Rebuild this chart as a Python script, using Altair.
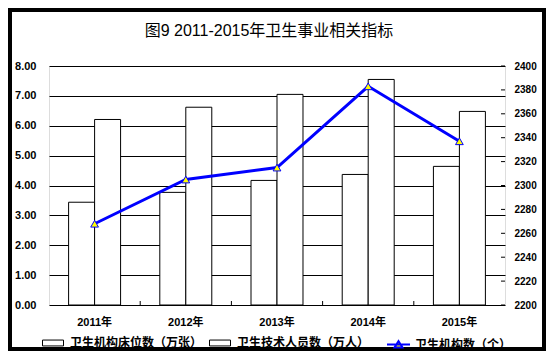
import altair as alt
import pandas as pd

years = ["2011年", "2012年", "2013年", "2014年", "2015年"]
beds = [3.44, 3.77, 4.17, 4.37, 4.64]
staff = [6.21, 6.62, 7.05, 7.55, 6.48]
institutions = [2268, 2305, 2315, 2383, 2337]
bar_series = ["卫生机构床位数（万张）", "卫生技术人员数（万人）"]
line_series = "卫生机构数（个）"
left_ticks = [0, 1, 2, 3, 4, 5, 6, 7, 8]
right_ticks = list(range(2200, 2401, 20))
title_text = "图9  2011-2015年卫生事业相关指标"

bar_df = pd.DataFrame({
    "year": years * 2,
    "series": [bar_series[0]] * len(years) + [bar_series[1]] * len(years),
    "value": beds + staff,
})
line_df = pd.DataFrame({"year": years, "series": [line_series] * len(years), "value": institutions})
rtick_df = pd.DataFrame({"value": right_ticks})
btick_df = pd.DataFrame({"year": years[1:]})
frame_df = pd.DataFrame({"k": [0]})

W, H = 456, 239
LATIN = "Liberation Sans"
CJK = "Noto Sans CJK SC"

x_enc = alt.X(
    "year:N", sort=years,
    scale=alt.Scale(paddingInner=0.43, paddingOuter=0.215),
    axis=alt.Axis(title=None, labelAngle=0, ticks=False, domain=False,
                  labelFont=f"{LATIN}, {CJK}", labelFontSize=11, labelFontWeight="bold",
                  labelColor="black", labelPadding=11),
)

y_left = alt.Y(
    "value:Q",
    scale=alt.Scale(domain=[0, 8], nice=False, zero=True),
    axis=alt.Axis(title=None, values=left_ticks, format=".2f", grid=True, gridColor="black",
                  gridOpacity=1, gridWidth=1, ticks=False, domain=False, labelPadding=13,
                  labelFont=LATIN, labelFontSize=11, labelFontWeight="bold", labelColor="black"),
)

y_right = alt.Y(
    "value:Q",
    scale=alt.Scale(domain=[2200, 2400], nice=False, zero=False),
    axis=alt.Axis(title=None, orient="right", values=right_ticks, format="d", grid=False,
                  ticks=False, domain=False, labelPadding=9, labelFont=LATIN, labelFontSize=10,
                  labelFontWeight="bold", labelColor="black"),
)

frame = alt.Chart(frame_df).mark_rect(fillOpacity=0, stroke="black", strokeWidth=4).encode(
    x=alt.value(-39), x2=alt.value(W + 39), y=alt.value(-56), y2=alt.value(H + 44)
)

bars = alt.Chart(bar_df).mark_bar(stroke="black", strokeWidth=1, opacity=1).encode(
    x=x_enc,
    xOffset=alt.XOffset("series:N", sort=bar_series, scale=alt.Scale(paddingInner=0, paddingOuter=0)),
    y=y_left,
    fill=alt.Fill(
        "series:N",
        scale=alt.Scale(domain=bar_series, range=["white", "white"]),
        legend=alt.Legend(title=None, orient="none", legendX=-7, legendY=266, direction="horizontal",
                          symbolType="M-1,-0.28H1V0.28H-1Z", symbolSize=441,
                          symbolStrokeColor="black", symbolStrokeWidth=1, symbolFillColor="white",
                          labelFont=CJK, labelFontSize=12, labelFontWeight="bold", labelColor="black",
                          labelOffset=6, columnPadding=4, padding=0),
    ),
)

bottom_ticks = alt.Chart(btick_df).mark_tick(orient="vertical", size=4, thickness=1, color="black",
                                             xOffset=-W / 10, opacity=1).encode(
    x=x_enc, y=alt.value(H - 2)
)

left_group = alt.layer(frame, bars, bottom_ticks)

right_ticks_layer = alt.Chart(rtick_df).mark_tick(orient="horizontal", size=4, thickness=1,
                                                  color="black", opacity=1).encode(
    x=alt.value(W - 2), y=y_right
)

line = alt.Chart(line_df).mark_line(strokeWidth=3).encode(
    x=x_enc, y=y_right,
    stroke=alt.Stroke(
        "series:N", scale=alt.Scale(domain=[line_series], range=["#0000ff"]),
        legend=alt.Legend(title=None, orient="none", legendX=337, legendY=266,
                          symbolType="M-1,0H1M-0.35,0.27L0,-0.3L0.35,0.27Z", symbolSize=529,
                          symbolStrokeWidth=2, symbolFillColor="#ffff00",
                          labelFont=CJK, labelFontSize=12, labelFontWeight="bold", labelColor="black",
                          labelOffset=4, padding=0),
    ),
)

points = alt.Chart(line_df).mark_point(shape="triangle-up", filled=True, fill="#ffff00",
                                       stroke="#0000ff", strokeWidth=1, size=60, opacity=1).encode(
    x=x_enc, y=y_right
)

right_group = alt.layer(right_ticks_layer, line, points)

chart = alt.layer(left_group, right_group).resolve_scale(y="independent").properties(
    width=W, height=H,
    title=alt.TitleParams(title_text, anchor="middle", frame="group", font=f"{LATIN}, {CJK}",
                          fontSize=16, fontWeight="normal", color="black", offset=-31, dx=-8),
    autosize=alt.AutoSizeParams(type="none"),
    padding={"left": 41, "top": 58, "right": 41, "bottom": 46},
).configure_view(stroke="black", strokeWidth=1, fill="white").configure(background="white")

chart.save("out.html", embed_options={"renderer": "svg", "actions": False})
